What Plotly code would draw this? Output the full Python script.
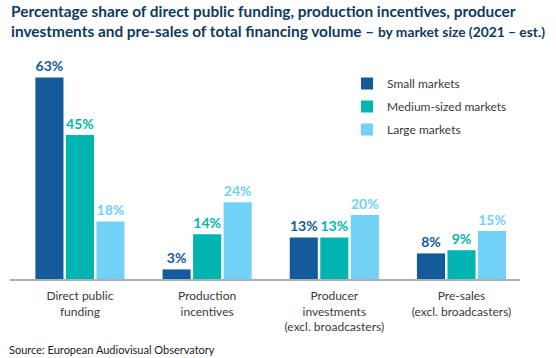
import plotly.graph_objects as go

categories = ["Direct public<br>funding", "Production<br>incentives",
              "Producer<br>investments<br>(excl. broadcasters)", "Pre-sales<br>(excl. broadcasters)"]
series_names = ["Small markets", "Medium-sized markets", "Large markets"]
small_vals = [63, 3, 13, 8]
medium_vals = [45, 14, 13, 9]
large_vals = [18, 24, 20, 15]
colors = ["#155a9a", "#00b5b1", "#72d1f7"]

W, H = 556, 358
L, R, T, B = 10, 36, 60, 79
PW, PH = W - L - R, H - T - B

def px(x):
    return (x - L) / PW

def py(y):
    return (H - B - y) / PH

FONT = "Lato"
fig = go.Figure()
for name, vals, col in zip(series_names, [small_vals, medium_vals, large_vals], colors):
    fig.add_trace(go.Bar(
        x=categories, y=vals, name=name, marker=dict(color=col, line=dict(width=0)),
        texttemplate="%{y}%", textposition="outside", cliponaxis=False,
        textfont=dict(color=col, size=14, family=FONT, weight="bold"),
        legendgroup=name,
    ))

fig.update_layout(
    width=W, height=H, margin=dict(l=L, r=R, t=T, b=B, autoexpand=False),
    paper_bgcolor="white", plot_bgcolor="white",
    barmode="group", bargap=0.28, bargroupgap=0.08,
    font=dict(family=FONT, size=12, color="#3a3a3a"),
    xaxis=dict(range=[-0.55, 3.46], showline=True, linecolor="#b0b0b0", linewidth=1.5,
               ticks="", tickfont=dict(size=12, color="#3a3a3a", family=FONT),
               ticklabelstandoff=5, automargin=False),
    yaxis=dict(range=[0, PH / 3.2], visible=False),
    legend=dict(x=px(347), y=py(69), xanchor="left", yanchor="top",
                font=dict(size=12, color="#3a3a3a", family=FONT),
                traceorder="grouped", tracegroupgap=4, bgcolor="rgba(0,0,0,0)"),
    showlegend=True,
)

fig.add_annotation(
    xref="paper", yref="paper", x=px(9), y=py(0), xanchor="left", yanchor="top",
    align="left", showarrow=False,
    text=("<b>Percentage share of direct public funding, production incentives, producer<br>"
          "investments and pre-sales of total financing volume – "
          "<span style='font-size:13.8px'>by market size (2021 – est.)</span></b>"),
    font=dict(family=FONT, size=15.4, color="#0f3a5f"),
)
fig.add_annotation(
    xref="paper", yref="paper", x=px(7), y=py(349), xanchor="left", yanchor="middle",
    showarrow=False, text="Source: European Audiovisual Observatory",
    font=dict(family=FONT, size=11, color="#222222"),
)

# Remove the browser's default 8px body margin so the figure sits at the page's corner.
fig.write_html("out.html", config={"displayModeBar": False},
               post_script="document.body.style.margin='0';")
